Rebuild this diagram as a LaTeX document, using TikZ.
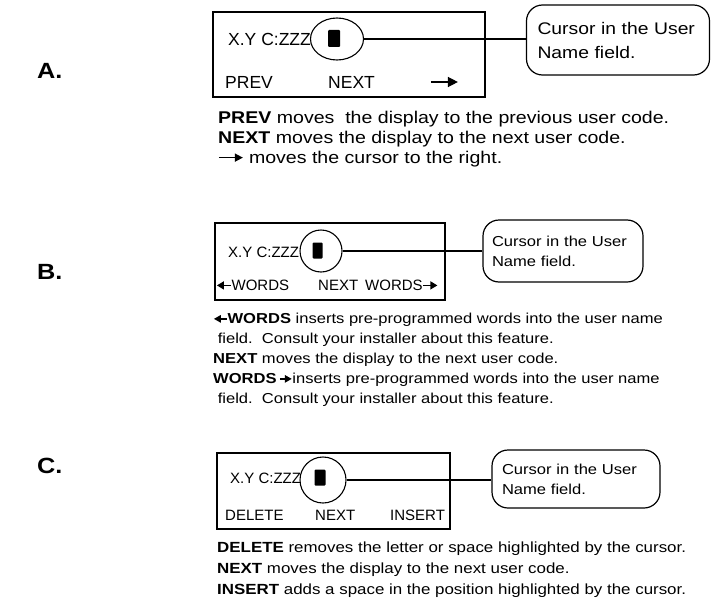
\documentclass[tikz,border=0pt]{standalone}
\usepackage{fontspec}
\setmainfont{Liberation Sans}
\newfontfamily\wf[FakeStretch=1.15]{Liberation Sans}
\usetikzlibrary{shapes.geometric,arrows.meta}
% #1 shaft length, #2 head length, #3 head width
\newcommand{\rarr}[3]{\tikz[baseline=-0.6ex]\draw[line width=1.4pt,-{Triangle[length=#2,width=#3]}] (0pt,0pt) -- (#1,0pt);}
\newcommand{\larr}[3]{\tikz[baseline=-0.6ex]\draw[line width=1.4pt,{Triangle[length=#2,width=#3]}-] (0pt,0pt) -- (#1,0pt);}
\tikzset{
  panel/.style={draw, line width=1.3pt, rectangle, inner sep=0pt},
  callout/.style={draw, line width=1.2pt, rounded corners=16pt, inner ysep=0pt, align=left},
  ring/.style={draw, line width=1.1pt, ellipse, inner sep=0pt},
  cursorbox/.style={fill=black, inner sep=0pt, rounded corners=1pt},
  lbl/.style={anchor=west, inner sep=0pt},
  desc/.style={anchor=north west, inner sep=0pt, align=left},
  sec/.style={anchor=west, inner sep=0pt, font=\wf\fontsize{22}{26}\selectfont\bfseries},
  link/.style={line width=1.1pt},
  bigtxt/.style={font=\fontsize{17.5}{20}\selectfont},
  smalltxt/.style={font=\fontsize{15}{18}\selectfont}
}
\begin{document}
\begin{tikzpicture}[x=1pt,y=-1pt]
\useasboundingbox (0,0) rectangle (711,602);

% ---------- A ----------
\node[sec] (labA) at (37,71) {A.};
\node[panel, minimum width=272pt, minimum height=85pt] (boxA) at (349,54.5) {};
\node[lbl, bigtxt] (xyA) at (228,39.5) {X.Y C:ZZZ};
\node[cursorbox, minimum width=12pt, minimum height=17pt] (curA) at (334,38.5) {};
\node[ring, minimum width=53pt, minimum height=42pt] (ringA) at (337,39) {};
\node[lbl, bigtxt] (prevA) at (225,82) {PREV};
\node[lbl, bigtxt] (nextA) at (328,82) {NEXT};
\node[lbl] (arrA) at (430,82) {\rarr{27pt}{10pt}{10pt}};
\node[callout, minimum width=183pt, minimum height=70pt, inner xsep=11pt, text width=161pt,
      font=\wf\fontsize{16.8}{24}\selectfont] (calA) at (618,40) {Cursor in the User\\Name field.};
\draw[link] (ringA.east) -- (ringA.east -| calA.west);
\node[desc, font=\wf\fontsize{17}{20}\selectfont] (descA) at (218,110.5)
  {\textbf{PREV} moves\ \ the display to the previous user code.\\
   \textbf{NEXT} moves the display to the next user code.\\
   \rarr{24pt}{8pt}{8pt} moves the cursor to the right.};

% ---------- B ----------
\node[sec] (labB) at (37,272) {B.};
\node[panel, minimum width=230pt, minimum height=77pt] (boxB) at (330,261.5) {};
\node[lbl, smalltxt] (xyB) at (228,252) {X.Y C:ZZZ};
\node[cursorbox, minimum width=10pt, minimum height=16pt] (curB) at (317.5,250.5) {};
\node[ring, minimum width=42pt, minimum height=42pt] (ringB) at (321,251) {};
\node[lbl, smalltxt] (lwB) at (216,285) {\larr{14pt}{7pt}{8pt}WORDS};
\node[lbl, smalltxt] (nextB) at (318,285) {NEXT};
\node[lbl, smalltxt] (rwB) at (365,285) {WORDS\rarr{14pt}{7pt}{8pt}};
\node[callout, minimum width=160pt, minimum height=62pt, inner xsep=9pt, text width=142pt,
      font=\wf\fontsize{14.4}{20}\selectfont] (calB) at (563,251) {Cursor in the User\\Name field.};
\draw[link] (ringB.east) -- (ringB.east -| calB.west);
\node[desc, font=\wf\fontsize{14.4}{20}\selectfont] (descB) at (213,312.8)
  {\larr{13pt}{7pt}{7.5pt}\textbf{WORDS} inserts pre-programmed words into the user name\\
   \ field.\ \ Consult your installer about this feature.\\
   \textbf{NEXT} moves the display to the next user code.\\
   \textbf{WORDS}\,\rarr{12pt}{7pt}{7.5pt}inserts pre-programmed words into the user name\\
   \ field.\ \ Consult your installer about this feature.};

% ---------- C ----------
\node[sec] (labC) at (37,466) {C.};
\node[panel, minimum width=233pt, minimum height=76pt] (boxC) at (333.5,491) {};
\node[lbl, smalltxt] (xyC) at (230,478) {X.Y C:ZZZ};
\node[cursorbox, minimum width=11pt, minimum height=16pt] (curC) at (320,477.5) {};
\node[ring, minimum width=46pt, minimum height=46pt] (ringC) at (323,480) {};
\node[lbl, smalltxt] (delC) at (225,515) {DELETE};
\node[lbl, smalltxt] (nextC) at (315,515) {NEXT};
\node[lbl, smalltxt] (insC) at (390,515) {INSERT};
\node[callout, minimum width=168pt, minimum height=58pt, inner xsep=10pt, text width=148pt,
      font=\wf\fontsize{14.4}{20}\selectfont] (calC) at (576,479) {Cursor in the User\\Name field.};
\draw[link] (ringC.east) -- (ringC.east -| calC.west);
\node[desc, font=\wf\fontsize{14.7}{21}\selectfont] (descC) at (217,541.7)
  {\textbf{DELETE} removes the letter or space highlighted by the cursor.\\
   \textbf{NEXT} moves the display to the next user code.\\
   \textbf{INSERT} adds a space in the position highlighted by the cursor.};
\end{tikzpicture}
\end{document}
